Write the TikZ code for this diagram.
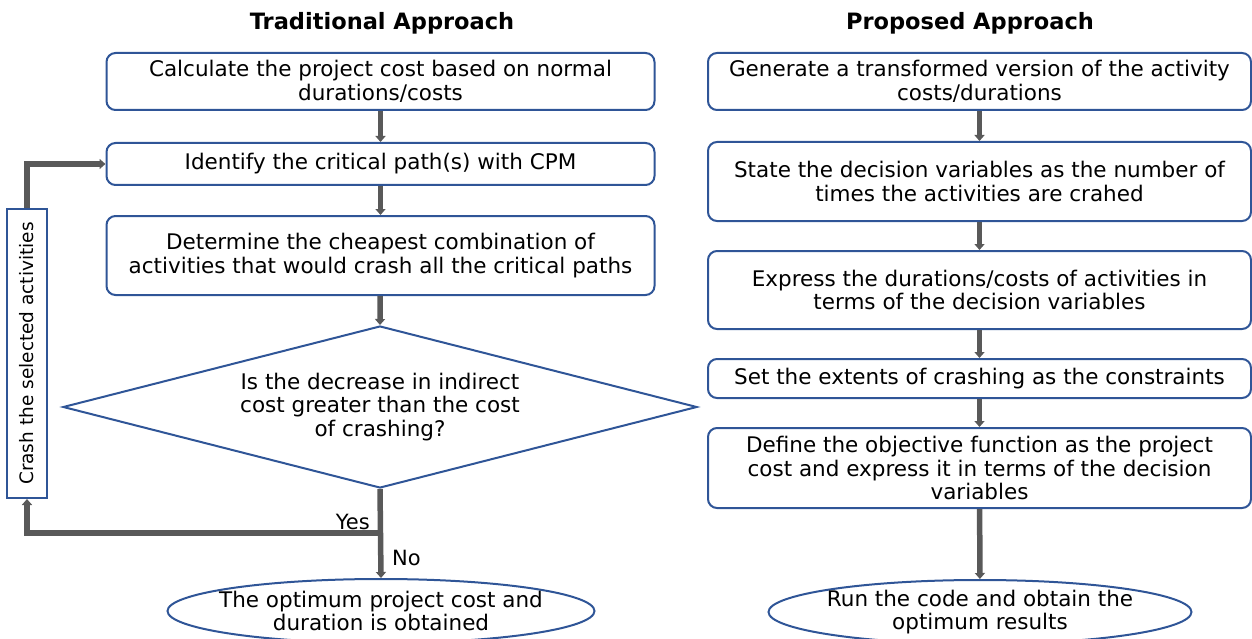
\documentclass[tikz,border=0pt]{standalone}
\usepackage{fontspec}
\setmainfont{DejaVu Sans}
\usetikzlibrary{shapes.geometric,arrows.meta}
\definecolor{boxblue}{HTML}{2F5597}
\definecolor{flowgray}{HTML}{595959}
\tikzset{
  txt/.style={font=\fontsize{21.5}{23.5}\selectfont, align=center, inner sep=0pt},
  stepbox/.style={txt, draw=boxblue, line width=2pt, rounded corners=9pt, minimum width=#1},
  stepbox/.default=548,
  endbox/.style={txt, shape=ellipse, draw=boxblue, line width=2pt,
                 inner xsep=-14pt, inner ysep=-3pt},
  flow/.style={draw=flowgray, line width=5.5pt, -{Triangle[width=10pt,length=6pt]}},
  title/.style={font=\fontsize{22.5}{24}\selectfont\bfseries},
  lbl/.style={font=\fontsize{21}{22}\selectfont, inner sep=0pt},
}
\begin{document}
\begin{tikzpicture}[x=1pt,y=-1pt]
\useasboundingbox (0,0) rectangle (1252,639);

% ---- Traditional approach ----
\node[title] (tT) at (382,23) {Traditional Approach};
\node[stepbox, minimum height=57] (t1) at (380.5,81.5) {Calculate the project cost based on normal\\durations/costs};
\node[stepbox, minimum height=42] (t2) at (380.5,164) {Identify the critical path(s) with CPM};
\node[stepbox, minimum height=79] (t3) at (380.5,255.5) {Determine the cheapest combination of\\activities that would crash all the critical paths};
\node[txt, shape=diamond, draw=boxblue, line width=2pt, aspect=3.9,
      minimum width=634, minimum height=162] (dec) at (380,407)
      {Is the decrease in indirect\\cost greater than the cost\\of crashing?};
\node[endbox, minimum width=427, minimum height=64] (tEnd) at (381,611)
      {The optimum project cost and\\duration is obtained};
\node[txt, font=\fontsize{18.5}{20}\selectfont, draw=boxblue, line width=2pt, rotate=90,
      minimum width=289, minimum height=40] (crash) at (27,353.5)
      {Crash the selected activities};

\draw[flow] (t1) -- (t2);
\draw[flow] (t2) -- (t3);
\draw[flow] (t3) -- (dec.north);
\draw[flow] (dec.south) -- (tEnd.north);
\coordinate (join) at (380,533);
\draw[flow] (join) -| (crash.west);
\draw[flow] (crash.east) |- (t2.west);
\node[lbl, anchor=south east] (yesL) at (370,530) {Yes};
\node[lbl, anchor=west] (noL) at (392,558) {No};

% ---- Proposed approach ----
\node[title] (tP) at (970,23) {Proposed Approach};
\node[stepbox=543, minimum height=57] (p1) at (979.5,81.5) {Generate a transformed version of the activity\\costs/durations};
\node[stepbox=543, minimum height=79] (p2) at (979.5,181.5) {State the decision variables as the number of\\times the activities are crahed};
\node[stepbox=543, minimum height=78] (p3) at (979.5,290) {Express the durations/costs of activities in\\terms of the decision variables};
\node[stepbox=543, minimum height=39] (p4) at (979.5,378.5) {Set the extents of crashing as the constraints};
\node[stepbox=543, minimum height=80] (p5) at (979.5,468) {Define the objective function as the project\\cost and express it in terms of the decision\\variables};
\node[endbox, minimum width=423, minimum height=64] (pEnd) at (980,612)
      {Run the code and obtain the\\optimum results};

\draw[flow] (p1) -- (p2);
\draw[flow] (p2) -- (p3);
\draw[flow] (p3) -- (p4);
\draw[flow] (p4) -- (p5);
\draw[flow] (p5) -- (pEnd);
\end{tikzpicture}
\end{document}
